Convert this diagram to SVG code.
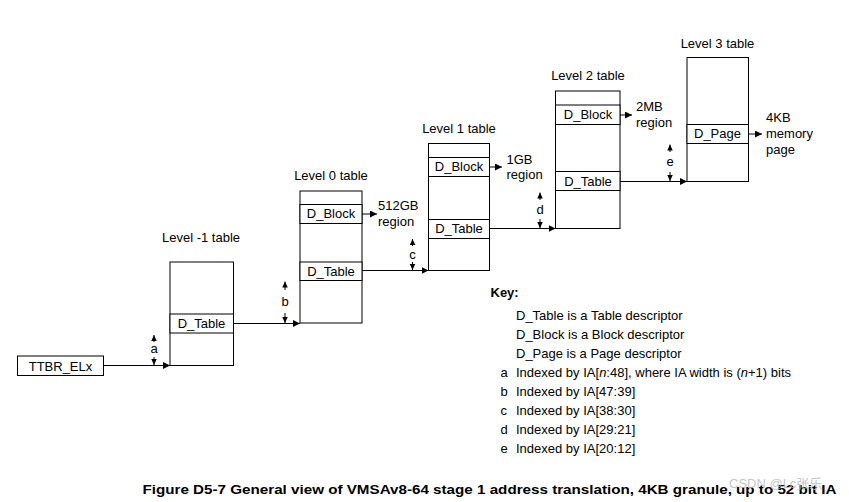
<svg xmlns="http://www.w3.org/2000/svg" width="849" height="502" viewBox="0 0 849 502">
<style>
text{font-family:"Liberation Sans",Arial,sans-serif;font-size:13px;fill:#000}
.c{text-anchor:middle}
.box{fill:#fff;stroke:#000;stroke-width:1}
.ln{fill:none;stroke:#000;stroke-width:1}
.b{font-weight:bold}
</style>
<defs>
<marker id="ah" markerUnits="userSpaceOnUse" markerWidth="8" markerHeight="7" refX="7" refY="3.5" orient="auto">
<path d="M0,0 L7,3.5 L0,7 Z" fill="#000"/>
</marker>
<marker id="sh" markerUnits="userSpaceOnUse" markerWidth="6" markerHeight="6" refX="6" refY="2.75" orient="auto">
<path d="M0,0 L6,2.75 L0,5.5 Z" fill="#000"/>
</marker>
</defs>
<rect width="849" height="502" fill="#fff"/>

<g id="ttbr">
<rect class="box" x="17.5" y="356" width="86" height="19.5"/>
<text class="c" x="60.5" y="370.5">TTBR_ELx</text>
</g>

<g id="level-1">
<text class="c" x="201" y="241.5">Level -1 table</text>
<rect class="box" x="170" y="262" width="63.5" height="103.5"/>
<rect class="box" x="170" y="314" width="63.5" height="19"/>
<text class="c" x="201.5" y="327.5">D_Table</text>
</g>

<g id="level0">
<text class="c" x="331" y="180">Level 0 table</text>
<rect class="box" x="300" y="191" width="62" height="132"/>
<rect class="box" x="300" y="204.5" width="62" height="19"/>
<text class="c" x="331" y="218">D_Block</text>
<rect class="box" x="300" y="262" width="62" height="18.5"/>
<text class="c" x="331" y="275.5">D_Table</text>
<text x="378" y="209.5">512GB</text>
<text x="378" y="225.5">region</text>
</g>

<g id="level1">
<text class="c" x="459" y="132.5">Level 1 table</text>
<rect class="box" x="428.5" y="143.5" width="61" height="127"/>
<rect class="box" x="428.5" y="157.5" width="61" height="19"/>
<text class="c" x="459" y="171">D_Block</text>
<rect class="box" x="428.5" y="219.5" width="61" height="19"/>
<text class="c" x="459" y="233">D_Table</text>
<text x="506.5" y="163.5">1GB</text>
<text x="506.5" y="178.5">region</text>
</g>

<g id="level2">
<text class="c" x="588" y="80">Level 2 table</text>
<rect class="box" x="555.5" y="91" width="64.5" height="137.5"/>
<rect class="box" x="555.5" y="105" width="64.5" height="19.5"/>
<text class="c" x="588" y="119">D_Block</text>
<rect class="box" x="555.5" y="171.5" width="64.5" height="19"/>
<text class="c" x="588" y="185.5">D_Table</text>
<text x="636" y="111">2MB</text>
<text x="636" y="126.5">region</text>
</g>

<g id="level3">
<text class="c" x="717.5" y="47.5">Level 3 table</text>
<rect class="box" x="687" y="57.5" width="61.5" height="124"/>
<rect class="box" x="687" y="124.5" width="61.5" height="19"/>
<text class="c" x="717.5" y="138">D_Page</text>
<text x="766" y="121.5">4KB</text>
<text x="766" y="138">memory</text>
<text x="766" y="153.5">page</text>
</g>

<g id="connectors">
<line class="ln" x1="103.5" y1="365.5" x2="170" y2="365.5" marker-end="url(#ah)"/>
<line class="ln" x1="233.5" y1="323.5" x2="300" y2="323.5" marker-end="url(#ah)"/>
<line class="ln" x1="362" y1="270.5" x2="428.5" y2="270.5" marker-end="url(#ah)"/>
<line class="ln" x1="489.5" y1="228.5" x2="555.5" y2="228.5" marker-end="url(#ah)"/>
<line class="ln" x1="620" y1="181.5" x2="687" y2="181.5" marker-end="url(#ah)"/>
<line class="ln" x1="362" y1="214" x2="377" y2="214" marker-end="url(#ah)"/>
<line class="ln" x1="489.5" y1="167" x2="502" y2="167" marker-end="url(#ah)"/>
<line class="ln" x1="620" y1="115" x2="632" y2="115" marker-end="url(#ah)"/>
<line class="ln" x1="748.5" y1="134" x2="762" y2="134" marker-end="url(#ah)"/>
</g>

<g id="index-arrows">
<line class="ln" x1="154" y1="342" x2="154" y2="335" marker-end="url(#sh)"/>
<text class="c" x="154" y="353">a</text>
<line class="ln" x1="154" y1="357" x2="154" y2="365" marker-end="url(#sh)"/>

<line class="ln" x1="285" y1="290" x2="285" y2="281.5" marker-end="url(#sh)"/>
<text class="c" x="285" y="306">b</text>
<line class="ln" x1="285" y1="313" x2="285" y2="323" marker-end="url(#sh)"/>

<line class="ln" x1="412.5" y1="246" x2="412.5" y2="239" marker-end="url(#sh)"/>
<text class="c" x="412.5" y="259">c</text>
<line class="ln" x1="412.5" y1="262" x2="412.5" y2="270" marker-end="url(#sh)"/>

<line class="ln" x1="540" y1="200" x2="540" y2="192.5" marker-end="url(#sh)"/>
<text class="c" x="540" y="213.5">d</text>
<line class="ln" x1="540" y1="219" x2="540" y2="228" marker-end="url(#sh)"/>

<line class="ln" x1="670" y1="152" x2="670" y2="144.5" marker-end="url(#sh)"/>
<text class="c" x="670" y="166">e</text>
<line class="ln" x1="670" y1="172" x2="670" y2="181" marker-end="url(#sh)"/>
</g>

<g id="key">
<text class="b" x="490.5" y="296.5">Key:</text>
<text x="516" y="319.5">D_Table is a Table descriptor</text>
<text x="516" y="338.5">D_Block is a Block descriptor</text>
<text x="516" y="357.5">D_Page is a Page descriptor</text>
<text x="500.5" y="376.5">a</text>
<text x="516" y="376.5">Indexed by IA[<tspan font-style="italic">n</tspan>:48], where IA width is (<tspan font-style="italic">n</tspan>+1) bits</text>
<text x="500.5" y="395.5">b</text>
<text x="516" y="395.5">Indexed by IA[47:39]</text>
<text x="500.5" y="414.5">c</text>
<text x="516" y="414.5">Indexed by IA[38:30]</text>
<text x="500.5" y="433.5">d</text>
<text x="516" y="433.5">Indexed by IA[29:21]</text>
<text x="500.5" y="452.5">e</text>
<text x="516" y="452.5">Indexed by IA[20:12]</text>
</g>

<g id="caption">
<text class="b" x="142.5" y="493.5" font-size="14" textLength="694" lengthAdjust="spacingAndGlyphs">Figure D5-7 General view of VMSAv8-64 stage 1 address translation, 4KB granule, up to 52 bit IA</text>
<text x="729" y="488" font-size="12" style="font-family:'Liberation Sans','Noto Sans CJK SC',sans-serif;fill:#b8b8b8;opacity:0.8">CSDN @Lc张乐</text>
</g>
</svg>
